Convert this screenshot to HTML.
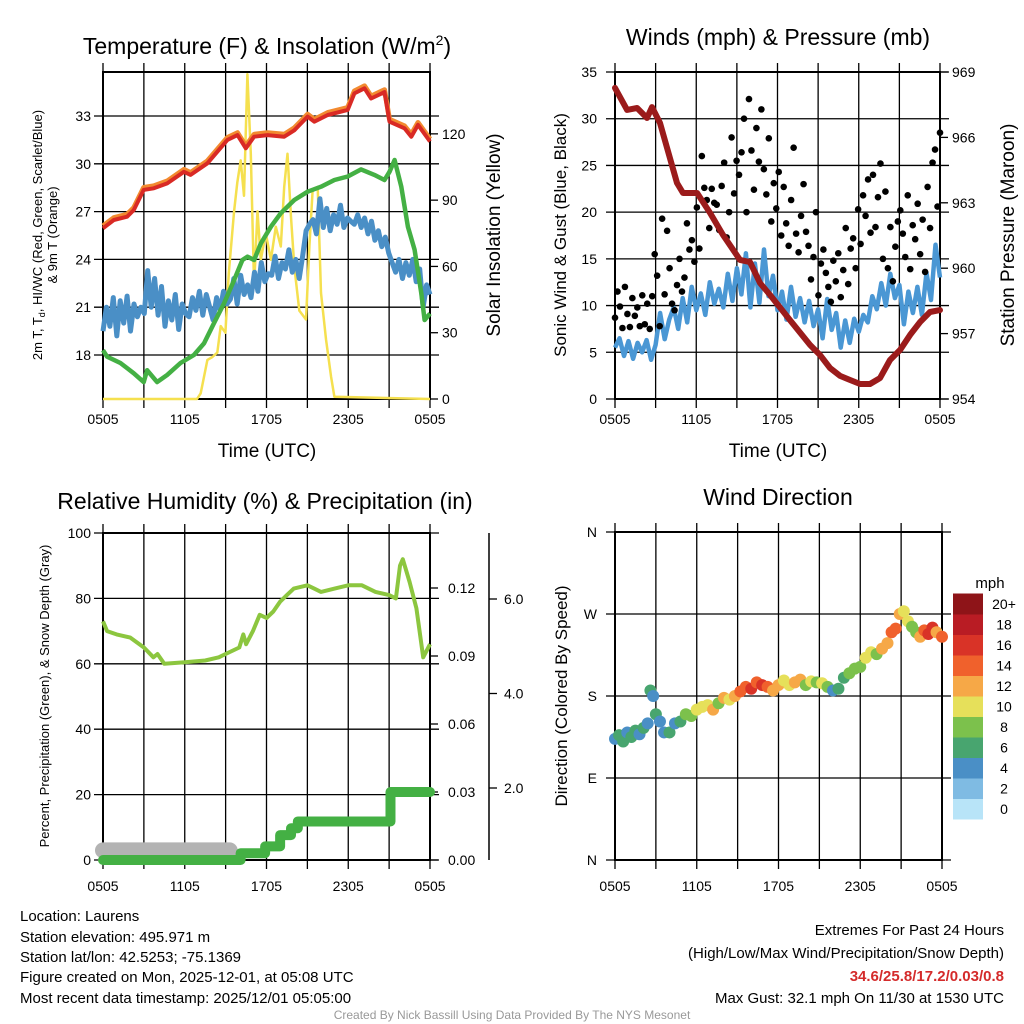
<!DOCTYPE html>
<html><head><meta charset="utf-8"><style>
html,body{margin:0;padding:0;background:#fff;}
svg{display:block;font-family:"Liberation Sans",Arial,sans-serif;}
</style></head><body>
<svg id="root" width="1024" height="1024" viewBox="0 0 1024 1024">
<text x="267" y="54" font-size="23" text-anchor="middle">Temperature (F) &amp; Insolation (W/m<tspan dy="-9" font-size="14">2</tspan><tspan dy="9">)</tspan></text>
<text x="778" y="45" font-size="23" text-anchor="middle">Winds (mph) &amp; Pressure (mb)</text>
<text x="265" y="509" font-size="23" text-anchor="middle">Relative Humidity (%) &amp; Precipitation (in)</text>
<text x="778" y="505" font-size="23" text-anchor="middle">Wind Direction</text>
<text transform="translate(42,235) rotate(-90)" font-size="13" text-anchor="middle">2m T, T<tspan font-size="9" dy="3">d</tspan><tspan dy="-3">, HI/WC (Red, Green, Scarlet/Blue)</tspan></text>
<text transform="translate(57,235) rotate(-90)" font-size="13" text-anchor="middle">&amp; 9m T (Orange)</text>
<text transform="translate(500,235) rotate(-90)" font-size="19" text-anchor="middle">Solar Insolation (Yellow)</text>
<text transform="translate(566,235) rotate(-90)" font-size="17" text-anchor="middle">Sonic Wind &amp; Gust (Blue, Black)</text>
<text transform="translate(1014,235) rotate(-90)" font-size="19" text-anchor="middle">Station Pressure (Maroon)</text>
<text transform="translate(49,696) rotate(-90)" font-size="13" text-anchor="middle">Percent, Precipitation (Green), &amp; Snow Depth (Gray)</text>
<text transform="translate(567,696) rotate(-90)" font-size="17" text-anchor="middle">Direction (Colored By Speed)</text>
<text x="267" y="457" font-size="19" text-anchor="middle">Time (UTC)</text>
<text x="778" y="457" font-size="19" text-anchor="middle">Time (UTC)</text>
<text x="990" y="588" font-size="15" text-anchor="middle">mph</text>
<g font-size="15">
<text x="20" y="921">Location: Laurens</text>
<text x="20" y="942">Station elevation: 495.971 m</text>
<text x="20" y="962">Station lat/lon: 42.5253; -75.1369</text>
<text x="20" y="982">Figure created on Mon, 2025-12-01, at 05:08 UTC</text>
<text x="20" y="1003">Most recent data timestamp: 2025/12/01 05:05:00</text>
</g>
<g font-size="15" text-anchor="end">
<text x="1004" y="935">Extremes For Past 24 Hours</text>
<text x="1004" y="958">(High/Low/Max Wind/Precipitation/Snow Depth)</text>
<text x="1004" y="981" fill="#d42b2b" font-weight="bold">34.6/25.8/17.2/0.03/0.8</text>
<text x="1004" y="1003">Max Gust: 32.1 mph On 11/30 at 1530 UTC</text>
</g>
<text x="512" y="1019" font-size="12" fill="#999" text-anchor="middle">Created By Nick Bassill Using Data Provided By The NYS Mesonet</text>
</svg>
<script>
// ---- Panel 1 data ----
const tempHours=[0,0.79,1.77,2.26,2.99,3.73,4.71,5.94,6.43,7.66,9.13,9.87,10.48,11.09,12.07,13.3,14.04,15.02,15.51,16.49,17.96,18.45,19.19,19.68,20.66,21.03,22.13,22.63,23.12,24];
const tempVals=[25.95,26.47,26.68,27.1,28.36,28.46,28.77,29.5,29.3,30.03,31.5,31.8,30.97,31.7,31.8,31.7,32.1,32.96,32.64,33.06,33.38,34.42,34.74,34.1,34.5,32.64,32.23,31.7,32.44,31.4];
const greenHours=[0,0.29,1.28,2.26,2.99,3.24,3.97,4.71,5.69,6.67,7.41,8.15,8.88,9.62,10.23,10.6,11.09,11.58,12.32,13.05,14.04,15.02,16.0,16.98,17.96,18.94,19.92,20.66,21.03,21.4,21.89,22.38,22.87,23.36,23.6,24];
const greenVals=[18.3,17.9,17.5,16.85,16.3,17.05,16.3,16.75,17.5,18.0,18.73,20.0,21.24,22.7,23.96,24.17,23.96,25.0,26.05,26.9,27.73,28.25,28.56,28.98,29.2,29.65,29.3,28.98,29.5,30.24,28.56,26.05,24.6,21.87,20.2,20.6];
const blueVals=[19.5,21.0,19.8,21.6,19.2,21.4,20.0,21.7,19.5,21.2,20.4,21.0,20.6,
23.3,21.0,22.8,20.5,22.3,19.8,21.4,20.2,21.8,19.6,21.2,20.6,
20.4,21.6,20.8,22.0,20.5,21.8,21.0,20.2,21.6,20.8,22.0,21.2,
21.5,22.8,21.2,23.0,21.8,22.4,21.6,23.2,22.0,23.8,22.6,23.1,
23.0,24.2,22.8,23.8,23.4,24.6,23.2,24.0,22.8,24.2,25.8,26.2,
26.5,25.6,27.8,26.0,27.2,25.8,26.8,26.2,27.4,26.0,26.6,26.4,
26.2,26.8,26.0,26.6,25.6,26.4,25.2,25.8,24.8,25.4,24.4,23.8,
23.2,24.0,22.8,23.8,23.0,24.0,22.6,23.4,21.0,22.4,21.8];
const solarHours=[0,6.9,7.17,7.66,8.03,8.39,8.64,8.98,9.23,9.62,9.86,10.11,10.35,10.6,10.85,11.09,11.34,11.58,11.95,12.32,12.68,13.05,13.3,13.54,13.79,14.04,14.41,14.9,15.15,15.39,15.76,16.0,16.37,16.74,16.98,24];
const solarVals=[0,0,2.6,17.7,19,21,33,30,57,85,98,108,92,147,111,51,85,63,75,63,78,69,96,111,83,60,40,36,69,95,96,48,27,10,1,0];
const tempYTicks=[18,21,24,27,30,33];
const solarTicks=[0,30,60,90,120];
const timeLabels=["0505","1105","1705","2305","0505"];
// ---- Panel 2 data ----
const windVals=[5.5,6.5,4.6,6.2,4.3,6.0,5.0,
6.3,4.2,5.8,9.2,6.4,8.5,
9.8,7.5,10.8,8.2,12.0,9.5,
11.3,9.0,12.5,10.2,11.8,9.8,
13.4,10.5,14.0,11.2,15.6,9.8,
14.5,10.3,16.0,11.0,13.2,9.5,
11.5,8.5,12.0,8.8,10.8,8.2,
10.5,7.8,9.6,6.5,10.7,7.4,
9.2,5.5,8.4,6.0,8.6,7.2,
9.0,8.2,11.0,9.6,12.4,10.0,
13.4,10.8,12.2,8.0,11.5,9.2,
12.0,9.0,13.5,10.6,16.5,13.0];
const gustVals=[8.7,11.5,9.9,7.6,12.0,9.1,7.7,10.8,8.9,9.8,7.8,
11.1,8.0,10.2,7.5,11.0,15.5,13.2,7.8,19.3,11.2,18.0,
14.0,10.2,9.5,12.2,15.0,11.5,13.0,18.8,16.0,17.0,14.7,
20.5,16.1,26.0,22.6,21.3,18.3,22.5,21.0,20.8,18.1,22.8,
25.3,17.3,20.0,28.0,22.0,25.5,24.0,26.4,30.0,20.0,32.1,
26.6,22.4,29.0,25.4,31.0,24.6,21.9,27.9,19.0,23.1,20.4,
24.3,17.5,22.7,18.8,16.4,21.3,26.9,17.7,15.7,19.6,23.0,
17.9,16.4,12.8,15.2,20.0,11.1,14.5,16.0,13.5,12.0,10.4,
14.8,12.6,15.6,10.9,13.8,18.3,12.3,16.1,17.2,14.0,20.3,
16.6,21.8,19.6,23.5,17.8,24.0,18.4,21.6,25.2,15.0,22.2,
14.0,18.4,12.6,16.3,19.0,20.2,17.7,15.2,21.8,13.9,18.6,
17.1,20.9,15.5,19.2,13.6,22.7,18.3,25.3,26.7,20.6,28.5];
const presHours=[0,0.89,1.63,2.36,2.73,3.32,4.58,5.02,6.06,7.02,7.98,9.23,9.97,10.71,11.45,12.92,14.4,15.14,15.88,16.62,17.36,18.1,18.83,19.57,20.31,21.05,21.79,22.53,23.26,24];
const presVals=[968.27,967.26,967.35,966.89,967.39,966.66,963.91,963.45,963.45,962.53,961.52,960.38,960.28,959.32,958.77,957.62,956.48,956.02,955.42,955.06,954.87,954.69,954.69,954.96,955.79,956.25,956.94,957.53,957.99,958.08];
const windTicks=[0,5,10,15,20,25,30,35];
const presTicks=[954,957,960,963,966,969];
// ---- Panel 3 data ----
const rhHours=[0,0.3,1,2,3,3.7,4,4.5,6,7.5,8.5,9,10,10.3,10.5,11,11.5,12,12.5,13,13.5,14,15,15.5,16,17,18,19,20,21,21.5,21.8,22,22.5,23,23.5,24];
const rhVals=[73,70,69,68,65,62,63,60,60.5,61,62,63,65,69,66,70,75,74,76,79,81,83,84,83,82,83,84,84,82,81,80,90,92,85,77,62,66];
const precipHours=[0,10.1,11.9,13.0,13.8,14.3,21.1,24];
const precipVals=[0,0.003,0.006,0.011,0.014,0.017,0.03,0.03];
const snowHours=[0,9.3];
const snowVals=[0.68,0.68];
const rhTicks=[0,20,40,60,80,100];
const precipTicks=[0,0.03,0.06,0.09,0.12];
const precipLabels=["0.00","0.03","0.06","0.09","0.12"];
const snowTicks=[2,4,6];
const snowLabels=["2.0","4.0","6.0"];
// ---- Panel 4 data ----
const dirHours=[0,0.3,0.6,0.9,1.2,1.5,1.8,2.1,2.4,2.6,2.8,3.0,3.3,3.6,4.0,4.4,4.8,5.2,5.6,6.0,6.4,6.8,7.2,7.6,8.0,8.4,8.8,9.2,9.6,10.0,10.4,10.8,11.2,11.6,12.0,12.4,12.8,13.2,13.6,14.0,14.4,14.8,15.2,15.6,16.0,16.4,16.8,17.2,17.6,18.0,18.4,18.8,19.2,19.6,20.0,20.3,20.6,20.9,21.2,21.5,21.8,22.1,22.4,22.7,23.0,23.3,23.6,24.0];
const dirVals=[133,137,130,140,135,142,138,145,150,186,180,160,152,140,140,150,152,160,158,165,168,170,165,172,178,176,180,185,190,188,195,192,190,186,192,197,192,195,198,192,196,195,194,190,186,188,200,205,210,212,222,228,226,232,238,250,254,270,273,262,256,250,245,252,248,255,250,245];
const spdVals=[4,6,7,5,6,7,5,6,4,6,4,6,5,4,7,5,7,8,9,10,11,10,12,9,13,11,12,14,15,16,14,17,15,13,12,11,10,13,12,9,11,8,10,9,5,7,7,8,9,8,10,11,9,12,13,14,15,13,11,10,9,8,12,14,16,17,13,15];
const dirTicks=[0,90,180,270,360];
const dirLabels=["N","E","S","W","N"];
const cbLabels=["0","2","4","6","8","10","12","14","16","18","20+"];
const cbColors=["#b8e4f8","#7fbbe3","#4a8fc6","#48a56f","#7cc14c","#e6e05a","#f6a847","#f0612c","#d93327","#b91c24","#8e1418"];

const NS="http://www.w3.org/2000/svg";
const root=document.getElementById('root');
function mk(tag,attrs,parent){const e=document.createElementNS(NS,tag);for(const k in attrs)e.setAttribute(k,attrs[k]);(parent||root).appendChild(e);return e;}
function lin(d0,d1,r0,r1){return v=>r0+(v-d0)*(r1-r0)/(d1-d0);}
function pathD(xs,ys,fx,fy){return xs.map((t,i)=>(i?'L':'M')+fx(t).toFixed(1)+','+fy(ys[i]).toFixed(1)).join('');}
function frame(L,R,T,B,name){
  const g=mk('g',{});
  
  
  return g;
}
function vgrid(g,fx,T,B){for(let h=0;h<=24;h+=3){const l=mk('line',{x1:fx(h),x2:fx(h),y1:T-9,y2:B+9,stroke:'#000','stroke-width':1.3},g);}}
function hgrid(g,L,R,y){const l=mk('line',{x1:L-9,x2:R+9,y1:y,y2:y,stroke:'#000','stroke-width':1.3},g);}
function box(g,L,R,T,B){const r=mk('rect',{x:L,y:T,width:R-L,height:B-T,fill:'none',stroke:'#000','stroke-width':2},g);}
function xlabels(fx,y){timeLabels.forEach((s,i)=>{const t=mk('text',{x:fx(i*6),y:y,'font-size':14,'text-anchor':'middle'});t.textContent=s;});}
function label(x,y,s,anchor,size){const t=mk('text',{x:x,y:y,'font-size':size||14,'text-anchor':anchor});t.textContent=s;return t;}

// ===== Panel 1 =====
{
const L=103,R=430,T=72,B=399;
const fx=lin(0,24,L,R), fy=lin(15.24,35.76,B,T), fs=lin(0,148,B,T);
const g=frame(L,R,T,B,'temperature');
vgrid(g,fx,T,B);
tempYTicks.forEach(v=>{hgrid(g,L,R,fy(v));label(L-12,fy(v)+5,String(v),'end');});
solarTicks.forEach(v=>{const l=mk('line',{x1:R,x2:R+8,y1:fs(v),y2:fs(v),stroke:'#000','stroke-width':1.3});label(R+12,fs(v)+5,String(v),'start');});
const bx=i=>i*24/(blueVals.length-1);
const sol=mk('path',{d:pathD(solarHours,solarVals,fx,fs),fill:'none',stroke:'#f5e04f','stroke-width':2.5,'stroke-linejoin':'round'});

const bl=mk('path',{d:blueVals.map((v,i)=>(i?'L':'M')+fx(bx(i)).toFixed(1)+','+fy(v).toFixed(1)).join(''),fill:'none',stroke:'#4a8fc6','stroke-width':5,'stroke-linejoin':'round'});

const gr=mk('path',{d:pathD(greenHours,greenVals,fx,fy),fill:'none',stroke:'#44b044','stroke-width':4.5,'stroke-linejoin':'round'});

const or=mk('path',{d:pathD(tempHours,tempVals.map(v=>v+0.15),fx,fy),fill:'none',stroke:'#f28a30','stroke-width':5,'stroke-linejoin':'round'});

const rd=mk('path',{d:pathD(tempHours,tempVals,fx,fy),fill:'none',stroke:'#d92a25','stroke-width':4,'stroke-linejoin':'round'});

box(g,L,R,T,B);
xlabels(fx,424);
}
// ===== Panel 2 =====
{
const L=615,R=940,T=72,B=399;
const fx=lin(0,24,L,R), fy=lin(0,35,B,T), fp=lin(954,969,B,T);
const g=frame(L,R,T,B,'winds');
vgrid(g,fx,T,B);
windTicks.forEach(v=>{hgrid(g,L,R,fy(v));label(L-18,fy(v)+5,String(v),'end');});
presTicks.forEach(v=>{const l=mk('line',{x1:R,x2:R+8,y1:fp(v),y2:fp(v),stroke:'#000','stroke-width':1.3});label(R+12,fp(v)+5,String(v),'start');});
const wx=i=>i*24/(windVals.length-1);
const wl=mk('path',{d:windVals.map((v,i)=>(i?'L':'M')+fx(wx(i)).toFixed(1)+','+fy(v).toFixed(1)).join(''),fill:'none',stroke:'#4a97d4','stroke-width':4.5,'stroke-linejoin':'round'});

const gx=i=>i*24/(gustVals.length-1);
gustVals.forEach((v,i)=>{const c=mk('circle',{cx:fx(gx(i)),cy:fy(v),r:3.3,fill:'#000'});});
const pl=mk('path',{d:pathD(presHours,presVals,fx,fp),fill:'none',stroke:'#9b1b1b','stroke-width':6,'stroke-linejoin':'round','stroke-linecap':'round'});

box(g,L,R,T,B);
xlabels(fx,424);
}
// ===== Panel 3 =====
{
const L=103,R=430,T=533,B=860;
const fx=lin(0,24,L,R), fy=lin(0,100,B,T), fpr=lin(0,0.12,B,588), fsn=lin(2,6,788,599);
const g=frame(L,R,T,B,'humidity');
vgrid(g,fx,T,B);
rhTicks.forEach(v=>{hgrid(g,L,R,fy(v));label(L-12,fy(v)+5,String(v),'end');});
precipTicks.forEach((v,i)=>{const l=mk('line',{x1:R,x2:R+8,y1:fpr(v),y2:fpr(v),stroke:'#000','stroke-width':1.3});label(R+18,fpr(v)+5,precipLabels[i],'start');});
const sa=mk('line',{x1:489,x2:489,y1:533,y2:860,stroke:'#000','stroke-width':1.5});
snowTicks.forEach((v,i)=>{const l=mk('line',{x1:489,x2:497,y1:fsn(v),y2:fsn(v),stroke:'#000','stroke-width':1.3});label(504,fsn(v)+5,snowLabels[i],'start');});
const sn=mk('path',{d:pathD(snowHours,snowVals,fx,fsn),fill:'none',stroke:'#b3b3b3','stroke-width':16,'stroke-linecap':'round'});

let d='';precipHours.forEach((t,i)=>{if(i===0)d+='M'+fx(t)+','+fpr(precipVals[i]);else d+='L'+fx(t)+','+fpr(precipVals[i-1])+'L'+fx(t)+','+fpr(precipVals[i]);});
const pr=mk('path',{d:d,fill:'none',stroke:'#44b044','stroke-width':10,'stroke-linecap':'round','stroke-linejoin':'round'});

const rh=mk('path',{d:pathD(rhHours,rhVals,fx,fy),fill:'none',stroke:'#8cc63f','stroke-width':4,'stroke-linejoin':'round'});

box(g,L,R,T,B);
xlabels(fx,891);
}
// ===== Panel 4 =====
{
const L=615,R=942,T=532,B=860;
const fx=lin(0,24,L,R), fy=lin(0,360,B,T);
const g=frame(L,R,T,B,'direction');
vgrid(g,fx,T,B);
dirTicks.forEach((v,i)=>{hgrid(g,L,R,fy(v));label(L-18,fy(v)+5,dirLabels[i],'end');});
dirVals.forEach((v,i)=>{const bin=Math.min(10,Math.floor(spdVals[i]/2));const c=mk('circle',{cx:fx(dirHours[i]),cy:fy(v),r:6,fill:cbColors[bin]});});
box(g,L,R,T,B);
xlabels(fx,891);
const cb=mk('g',{});
const bh=20.5;
cbColors.forEach((c,i)=>{const y=819-(i+1)*bh;const r=mk('rect',{x:953,y:y,width:30,height:bh+0.5,fill:c},cb);const t=mk('text',{x:1004,y:y+bh/2+5,'font-size':14,'text-anchor':'middle'},cb);t.textContent=cbLabels[i];});
}
</script>
</body></html>
